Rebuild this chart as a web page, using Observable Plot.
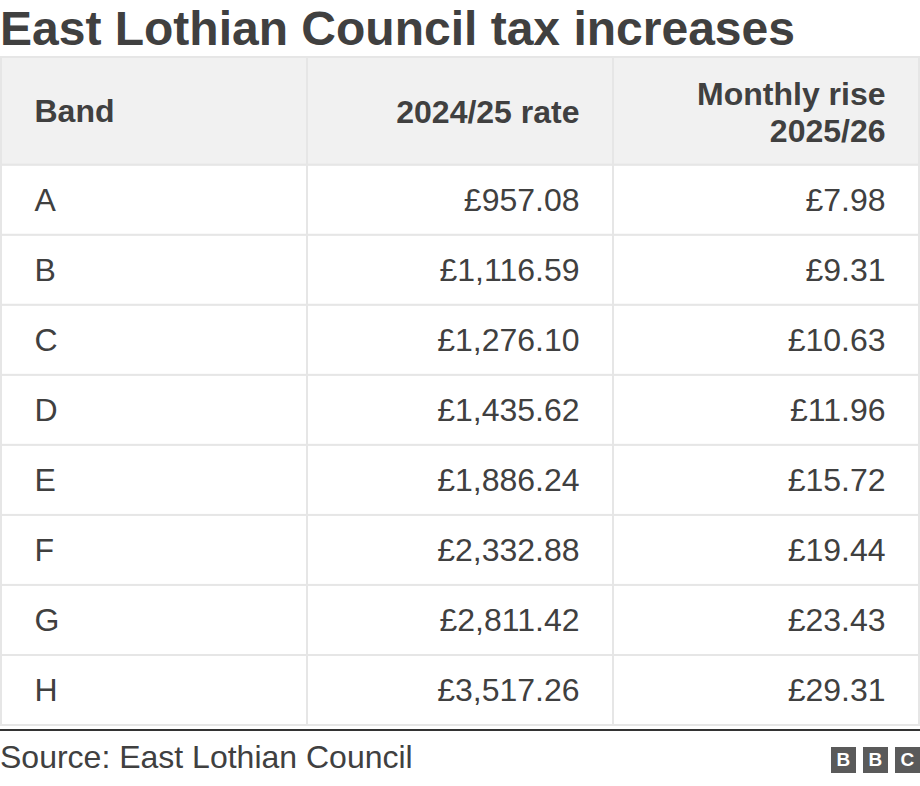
<!DOCTYPE html>
<html>
<head>
<meta charset="utf-8">
<script src="https://cdn.jsdelivr.net/npm/d3@7"></script>
<script src="https://cdn.jsdelivr.net/npm/@observablehq/plot@0.6"></script>
<style>
  html, body { margin: 0; padding: 0; background: #fff; }
  #wrap { width: 920px; position: relative; font-family: "Liberation Sans", Arial, Helvetica, sans-serif; color: #404040; }
  #title { font-size: 48px; font-weight: bold; line-height: 50px; padding-top: 4px; margin: 0; white-space: nowrap; }
  #chart svg { display: block; }
  #footer { position: relative; height: 55px; border-top: 2px solid #333; margin-top: 1px; }
  #source { position: absolute; left: 0; top: 8px; font-size: 32px; line-height: 36px; }
  #logo { position: absolute; right: 0; top: 16px; display: flex; gap: 6.5px; }
  #logo span { width: 25.5px; height: 25.5px; background: #5a5a5a; color: #fff; font-weight: bold; font-size: 19px; line-height: 26px; text-align: center; display: block; }
</style>
</head>
<body>
<div id="wrap">
  <div id="title">East Lothian Council tax increases</div>
  <div id="chart"></div>
  <div id="footer">
    <div id="source">Source: East Lothian Council</div>
    <div id="logo"><span>B</span><span>B</span><span>C</span></div>
  </div>
</div>
<script>
// ---- data ----
const columns = ["Band", "2024/25 rate", "Monthly rise\n2025/26"];
const bands = ["A", "B", "C", "D", "E", "F", "G", "H"];
const rate2024 = [957.08, 1116.59, 1276.10, 1435.62, 1886.24, 2332.88, 2811.42, 3517.26];
const monthlyRise = [7.98, 9.31, 10.63, 11.96, 15.72, 19.44, 23.43, 29.31];

// ---- layout ----
const H = 1.54; // header height in row units
const fmt = d => "£" + d3.format(",.2f")(d);
const cells = [];
bands.forEach((b, i) => {
  cells.push({col: columns[0], row: i, text: b});
  cells.push({col: columns[1], row: i, text: fmt(rate2024[i])});
  cells.push({col: columns[2], row: i, text: fmt(monthlyRise[i])});
});
const header = columns.map(c => ({col: c, text: c}));

const xRange = [1, 919];
const bw = (xRange[1] - xRange[0]) / columns.length;
const pad = 34;
const border = "#e6e6e6";

const plot = Plot.plot({
  width: 920,
  height: 674,
  marginTop: 3,
  marginBottom: 3,
  marginLeft: 0,
  marginRight: 0,
  style: {fontFamily: '"Liberation Sans", Arial, Helvetica, sans-serif', color: "#404040", background: "white"},
  x: {domain: columns, range: xRange, padding: 0, round: false, axis: null},
  y: {domain: [0, H + bands.length], range: [3, 671], axis: null},
  marks: [
    Plot.barY(header, {x: "col", y1: () => 0, y2: () => H, fill: "#f1f1f1", stroke: border, strokeWidth: 2}),
    Plot.barY(cells, {x: "col", y1: d => H + d.row, y2: d => H + d.row + 1, fill: "white", stroke: border, strokeWidth: 2}),
    Plot.text(header.filter(d => d.col === columns[0]), {x: "col", y: () => H / 2, text: "text", textAnchor: "start", dx: -bw / 2 + pad - 1, fontSize: 32, fontWeight: "bold", fill: "#404040"}),
    Plot.text(header.filter(d => d.col !== columns[0]), {x: "col", y: () => H / 2, text: "text", textAnchor: "end", dx: bw / 2 - pad, fontSize: 32, fontWeight: "bold", fill: "#404040", lineHeight: 1.15}),
    Plot.text(cells.filter(d => d.col === columns[0]), {x: "col", y: d => H + d.row + 0.5, text: "text", textAnchor: "start", dx: -bw / 2 + pad - 1, fontSize: 32, fill: "#404040"}),
    Plot.text(cells.filter(d => d.col !== columns[0]), {x: "col", y: d => H + d.row + 0.5, text: "text", textAnchor: "end", dx: bw / 2 - pad, fontSize: 32, fill: "#404040"})
  ]
});
document.getElementById("chart").appendChild(plot);
</script>
</body>
</html>
